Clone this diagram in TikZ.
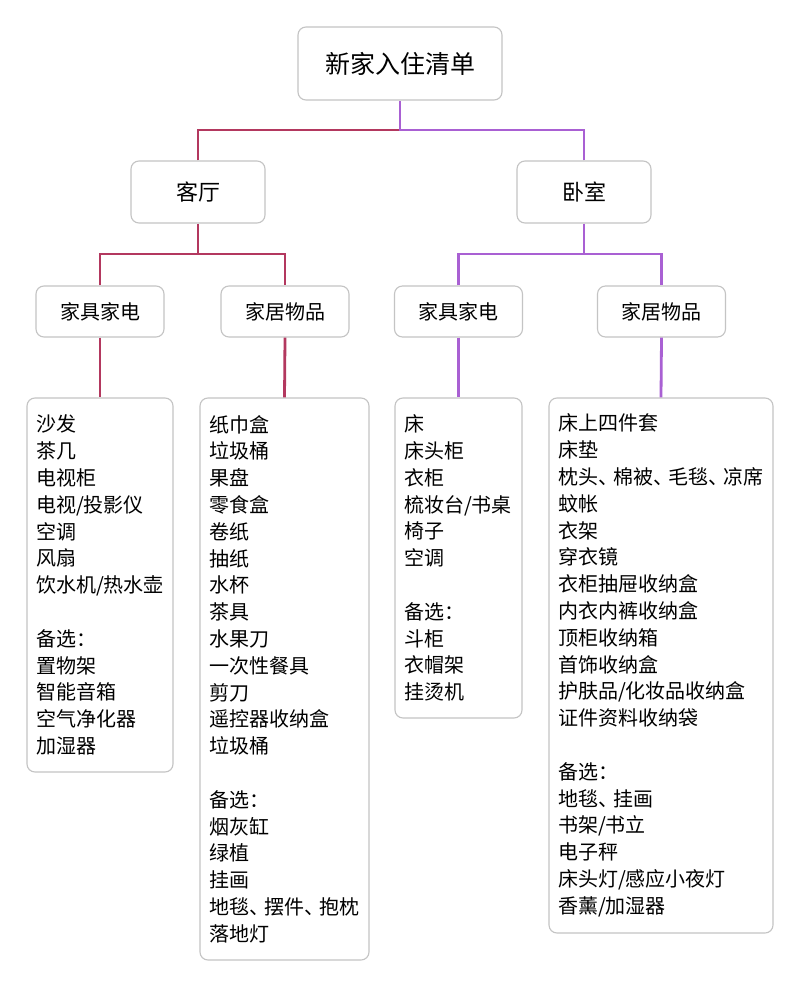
\documentclass[tikz,border=0pt]{standalone}
\usepackage{fontspec}
\newfontfamily\cjk{Noto Sans CJK SC}
\newcommand{\dunh}{\makebox[15pt][l]{、}}
\definecolor{crim}{HTML}{B3385F}
\definecolor{purp}{HTML}{A960D3}
\definecolor{boxgray}{HTML}{C4C4C4}
\begin{document}
\begin{tikzpicture}[x=1pt,y=-1pt,
  box/.style={draw=boxgray, line width=1.1pt, rounded corners=8pt, fill=white, inner sep=0pt, align=center},
  listbox/.style={draw=boxgray, line width=1.1pt, rounded corners=8pt, fill=white, inner xsep=9pt, inner ysep=0pt, align=left, font=\cjk\fontsize{20}{26.8}\selectfont},
  cl/.style={draw=crim, line width=2.8pt},
  pl/.style={draw=purp, line width=2.8pt}]
\useasboundingbox[fill=white] (0,0) rectangle (800,987);

% root
\node[box, minimum width=204pt, minimum height=73pt, font=\cjk\fontsize{25}{30}\selectfont] (root) at (400,63.5) {新家入住清单};
% level 2
\node[box, minimum width=134pt, minimum height=62pt, font=\cjk\fontsize{22}{26}\selectfont] (kt) at (198,192) {客厅};
\node[box, minimum width=134pt, minimum height=62pt, font=\cjk\fontsize{22}{26}\selectfont] (ws) at (584,192) {卧室};
% level 3
\node[box, minimum width=128pt, minimum height=51pt, font=\cjk\fontsize{20}{24}\selectfont] (a1) at (100,311.5) {家具家电};
\node[box, minimum width=128pt, minimum height=51pt, font=\cjk\fontsize{20}{24}\selectfont] (a2) at (285,311.5) {家居物品};
\node[box, minimum width=128pt, minimum height=51pt, font=\cjk\fontsize{20}{24}\selectfont] (b1) at (458.5,311.5) {家具家电};
\node[box, minimum width=128pt, minimum height=51pt, font=\cjk\fontsize{20}{24}\selectfont] (b2) at (661.5,311.5) {家居物品};

% lists
\node[listbox, text width=128pt, minimum height=374pt] (la) at (100,585) {沙发\\茶几\\电视柜\\电视/投影仪\\空调\\风扇\\饮水机/热水壶\\[26.8pt]备选：\\置物架\\智能音箱\\空气净化器\\加湿器};
\node[listbox, text width=151pt, minimum height=562pt] (lb) at (284.5,679) {纸巾盒\\垃圾桶\\果盘\\零食盒\\卷纸\\抽纸\\水杯\\茶具\\水果刀\\一次性餐具\\剪刀\\遥控器收纳盒\\垃圾桶\\[26.8pt]备选：\\烟灰缸\\绿植\\挂画\\地毯\dunh 摆件\dunh 抱枕\\落地灯};
\node[listbox, text width=109pt, minimum height=320pt] (lc) at (458.5,558) {床\\床头柜\\衣柜\\梳妆台/书桌\\椅子\\空调\\[26.8pt]备选：\\斗柜\\衣帽架\\挂烫机};
\node[listbox, text width=206pt, minimum height=535pt] (ld) at (661,665.5) {床上四件套\\床垫\\枕头\dunh 棉被\dunh 毛毯\dunh 凉席\\蚊帐\\衣架\\穿衣镜\\衣柜抽屉收纳盒\\内衣内裤收纳盒\\顶柜收纳箱\\首饰收纳盒\\护肤品/化妆品收纳盒\\证件资料收纳袋\\[26.8pt]备选：\\地毯\dunh 挂画\\书架/书立\\电子秤\\床头灯/感应小夜灯\\香薰/加湿器};

% connectors
\coordinate (j1) at (400,130);
\coordinate (j2) at (198,254);
\coordinate (j3) at (584,254);
\draw[cl] (kt.north) |- (j1);
\draw[pl] (ws.north) |- (j1) -- (root.south);
\draw[cl] (a1.north) |- (j2) -| (a2.north);
\draw[cl] (kt.south) -- (j2);
\draw[pl] (b1.north) |- (j3) -| (b2.north);
\draw[pl] (ws.south) -- (j3);
\draw[cl] (a1.south) -- (la.north);
\draw[cl] (a2.south) -- (lb.north);
\draw[pl] (b1.south) -- (lc.north);
\draw[pl] (b2.south) -- (ld.north);
\end{tikzpicture}
\end{document}
